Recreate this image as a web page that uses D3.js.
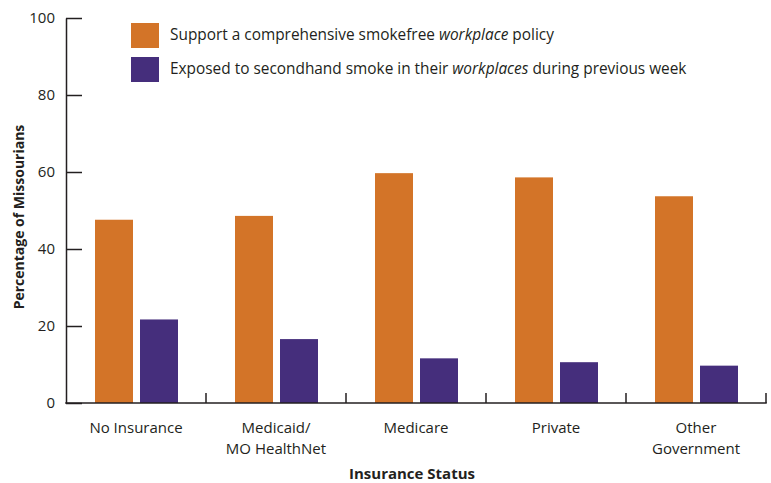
<!DOCTYPE html>
<html>
<head>
<meta charset="utf-8">
<script src="https://cdn.jsdelivr.net/npm/d3@7"></script>
<style>
  body { margin: 0; background: #fff; }
  svg text { font-family: "Open Sans", "Noto Sans", sans-serif; fill: #231f20; }
</style>
</head>
<body>
<div id="chart"></div>
<script>
// data
var categories = ["No Insurance", "Medicaid/\nMO HealthNet", "Medicare", "Private", "Other\nGovernment"];
var seriesNames = ["support", "exposed"];
var supportValues = [47.6, 48.6, 59.7, 58.6, 53.7];
var exposedValues = [21.7, 16.6, 11.6, 10.6, 9.7];
var yTicks = [0, 20, 40, 60, 80, 100];

var colors = {support: "#d37428", exposed: "#452e7c"};

var width = 771, height = 483;
var plotLeft = 66, plotRight = 766, plotTop = 18, plotBottom = 403;

var svg = d3.select("#chart").append("svg")
    .attr("width", width)
    .attr("height", height);

var x = d3.scaleBand()
    .domain(categories)
    .range([plotLeft, plotRight]);

var xInner = d3.scaleBand()
    .domain(seriesNames)
    .range([29, 112])
    .paddingInner(7 / 45);

var y = d3.scaleLinear()
    .domain([0, 100])
    .range([plotBottom, plotTop]);

var rows = categories.map(function(c, i){
    return {cat: c, support: supportValues[i], exposed: exposedValues[i]};
});

// bars
var groups = svg.append("g")
    .selectAll("g")
    .data(rows)
    .enter()
    .append("g")
    .attr("transform", function(d){ return "translate(" + x(d.cat) + ",0)"; });

groups.selectAll("rect")
    .data(function(d){ return seriesNames.map(function(s){ return {key: s, value: d[s]}; }); })
    .enter()
    .append("rect")
    .attr("x", function(d){ return xInner(d.key); })
    .attr("width", xInner.bandwidth())
    .attr("y", function(d){ return y(d.value); })
    .attr("height", function(d){ return y(0) - y(d.value); })
    .attr("fill", function(d){ return colors[d.key]; });

// y axis, ticks pointing into the plot
var yAxis = svg.append("g")
    .attr("transform", "translate(" + plotLeft + ",0)")
    .call(d3.axisLeft(y)
        .tickValues(yTicks)
        .tickSizeInner(-16)
        .tickSizeOuter(0)
        .tickPadding(11));
yAxis.select(".domain").attr("stroke", "#231f20").attr("stroke-width", 1.5);
yAxis.selectAll(".tick line").attr("stroke", "#231f20").attr("stroke-width", 1.5);
yAxis.selectAll(".tick text")
    .style("font-size", "15px")
    .style("font-family", "'Open Sans', sans-serif")
    .attr("fill", "#231f20");

// x axis line
svg.append("line")
    .attr("x1", plotLeft - 0.75).attr("x2", plotRight + 0.75)
    .attr("y1", y(0)).attr("y2", y(0))
    .attr("stroke", "#231f20")
    .attr("stroke-width", 1.5);

// boundary ticks between categories
svg.append("g")
    .selectAll("line")
    .data(categories)
    .enter()
    .append("line")
    .attr("x1", function(d){ return x(d) + x.step(); })
    .attr("x2", function(d){ return x(d) + x.step(); })
    .attr("y1", y(0))
    .attr("y2", y(0) - 10)
    .attr("stroke", "#231f20")
    .attr("stroke-width", 1.5);

// category labels
var labels = svg.append("g")
    .selectAll("text")
    .data(categories)
    .enter()
    .append("text")
    .attr("text-anchor", "middle")
    .attr("transform", function(d){ return "translate(" + (x(d) + x.bandwidth() / 2) + ",433)"; })
    .style("font-size", "15px");

labels.selectAll("tspan")
    .data(function(d){ return d.split("\n"); })
    .enter()
    .append("tspan")
    .attr("x", 0)
    .attr("y", function(d, i){ return i * 21; })
    .text(function(d){ return d; });

// axis titles
svg.append("text")
    .attr("x", 412)
    .attr("y", 479)
    .attr("text-anchor", "middle")
    .style("font-size", "15px")
    .style("font-weight", "bold")
    .text("Insurance Status");

svg.append("text")
    .attr("transform", "translate(24,217) rotate(-90)")
    .attr("text-anchor", "middle")
    .style("font-size", "14px")
    .style("font-weight", "bold")
    .text("Percentage of Missourians");

// legend
var legendItems = [
    {key: "support", parts: [["Support a comprehensive smokefree ", false], ["workplace", true], [" policy", false]]},
    {key: "exposed", parts: [["Exposed to secondhand smoke in their ", false], ["workplaces", true], [" during previous week", false]]}
];

var legend = svg.append("g")
    .selectAll("g")
    .data(legendItems)
    .enter()
    .append("g")
    .attr("transform", function(d, i){ return "translate(131," + (23 + i * 34) + ")"; });

legend.append("rect")
    .attr("width", 28)
    .attr("height", 25)
    .attr("fill", function(d){ return colors[d.key]; });

legend.append("text")
    .attr("x", 39)
    .attr("y", 17)
    .style("font-size", "15.4px")
    .selectAll("tspan")
    .data(function(d){ return d.parts; })
    .enter()
    .append("tspan")
    .style("font-style", function(d){ return d[1] ? "italic" : "normal"; })
    .text(function(d){ return d[0]; });
</script>
</body>
</html>
